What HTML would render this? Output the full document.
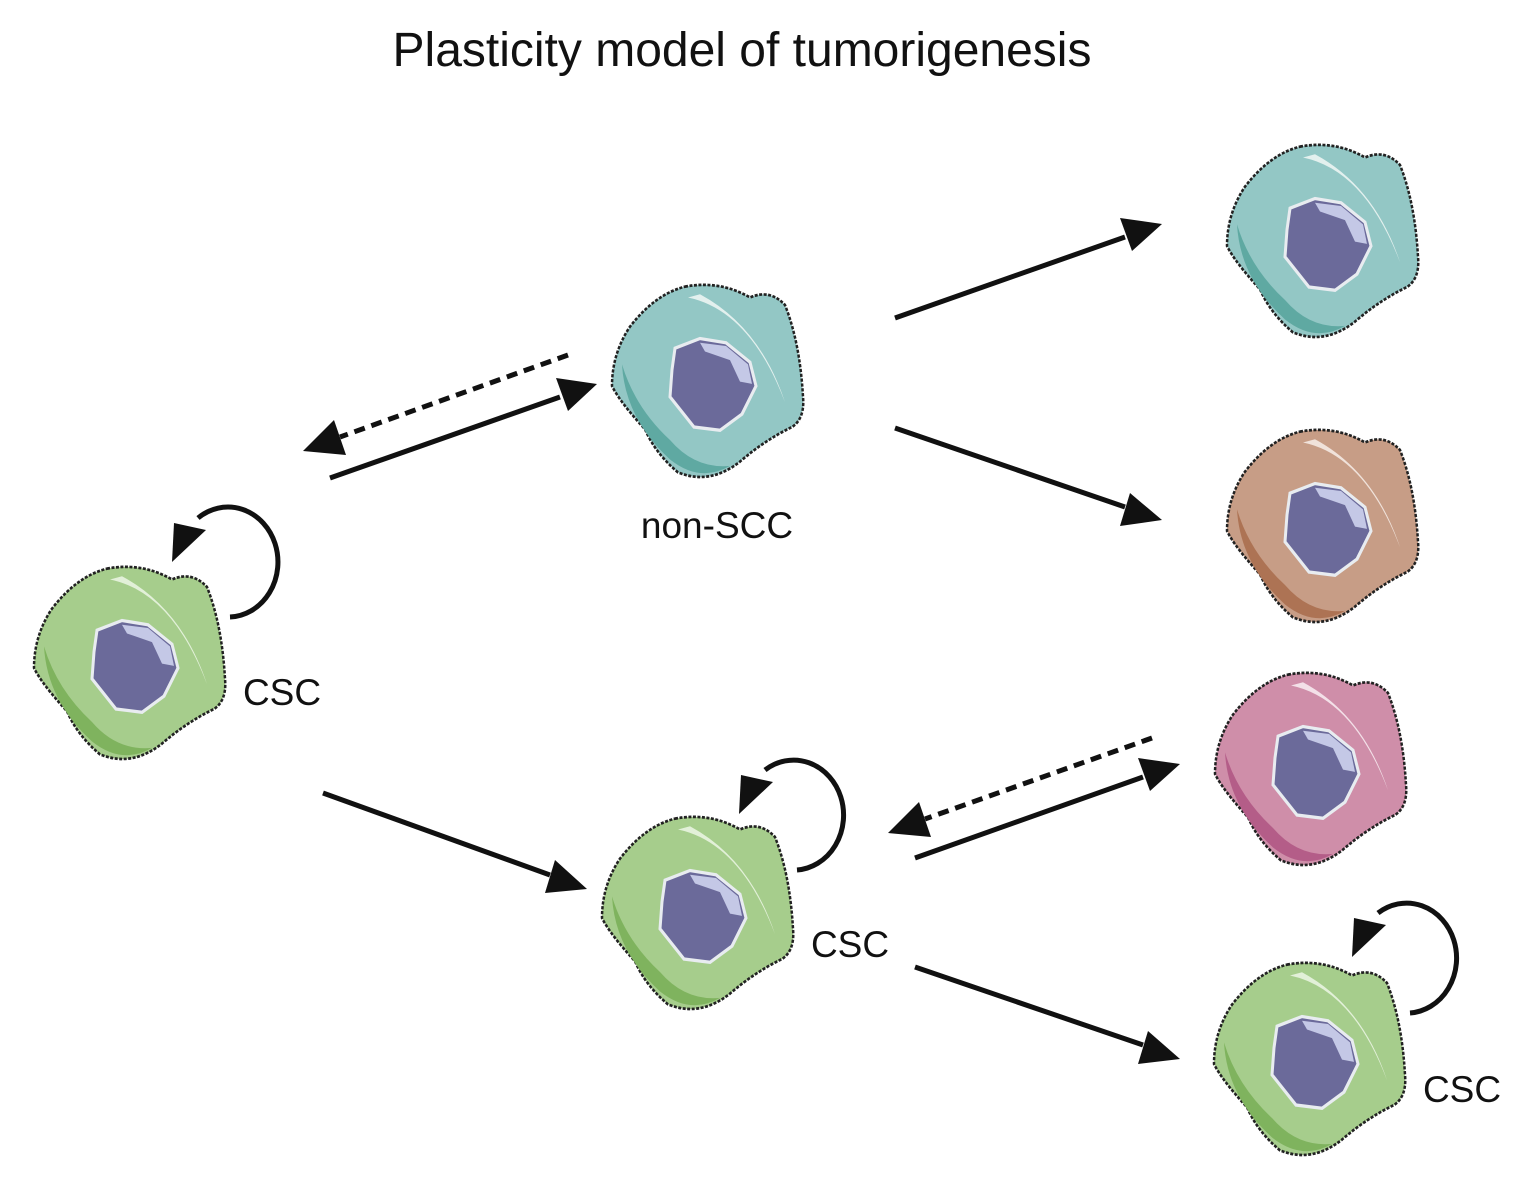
<!DOCTYPE html>
<html><head><meta charset="utf-8"><style>
html,body{margin:0;padding:0;background:#fff;}
svg{display:block;}
text{font-family:"Liberation Sans","DejaVu Sans",sans-serif;fill:#111;}
</style></head><body>
<svg width="1530" height="1188" viewBox="0 0 1530 1188" xmlns="http://www.w3.org/2000/svg">
<defs>
<g id="nuc">
<path d="M75,65 L100,56 L126,60 L150,78 L156,100 L142,126 L120,141 L94,138 L70,110 L72,85 Z" fill="#6b6a9a" stroke="#e8ecf0" stroke-width="3"/>
<path d="M100,60 L126,63 L148,80 L152,98 L140,96 L130,76 L105,68 Z" fill="#c4c8e6"/>
</g>
<path id="shp" d="M85,8 Q120,2 150,18 Q170,10 185,25 Q200,60 203,110 Q205,130 192,138 Q165,150 140,170 Q110,192 78,180 Q55,162 45,140 Q20,115 12,100 Q12,70 30,45 Q55,15 85,8 Z"/>
<path id="shd" d="M22,80 Q25,130 70,168 Q100,190 130,174 Q95,177 70,150 Q35,120 22,80 Z"/>
<path id="hl" d="M88,18 Q150,30 185,115 Q160,45 100,15 Z"/>
</defs>
<text x="742" y="66" font-size="48" text-anchor="middle">Plasticity model of tumorigenesis</text>

<g transform="translate(600,278) scale(1,1.08)">
<use href="#shp" fill="#93c7c5" stroke="#222" stroke-width="2.5" stroke-dasharray="3 1.5"/>
<use href="#shd" fill="#5fa9a2"/><use href="#hl" fill="#e3f0ee"/><use href="#nuc"/>
</g>
<g transform="translate(1215,138) scale(1,1.08)">
<use href="#shp" fill="#93c7c5" stroke="#222" stroke-width="2.5" stroke-dasharray="3 1.5"/>
<use href="#shd" fill="#5fa9a2"/><use href="#hl" fill="#e3f0ee"/><use href="#nuc"/>
</g>
<g transform="translate(1215,423) scale(1,1.08)">
<use href="#shp" fill="#c79d86" stroke="#222" stroke-width="2.5" stroke-dasharray="3 1.5"/>
<use href="#shd" fill="#ad7354"/><use href="#hl" fill="#f0e2da"/><use href="#nuc"/>
</g>
<g transform="translate(1203,666) scale(1,1.08)">
<use href="#shp" fill="#cf8ea9" stroke="#222" stroke-width="2.5" stroke-dasharray="3 1.5"/>
<use href="#shd" fill="#b45d88"/><use href="#hl" fill="#f3e0e8"/><use href="#nuc"/>
</g>
<g transform="translate(22,560) scale(1,1.08)">
<use href="#shp" fill="#a6cd8c" stroke="#222" stroke-width="2.5" stroke-dasharray="3 1.5"/>
<use href="#shd" fill="#7fb35e"/><use href="#hl" fill="#e2f0d8"/><use href="#nuc"/>
</g>
<g transform="translate(590,810) scale(1,1.08)">
<use href="#shp" fill="#a6cd8c" stroke="#222" stroke-width="2.5" stroke-dasharray="3 1.5"/>
<use href="#shd" fill="#7fb35e"/><use href="#hl" fill="#e2f0d8"/><use href="#nuc"/>
</g>
<g transform="translate(1202,956) scale(1,1.08)">
<use href="#shp" fill="#a6cd8c" stroke="#222" stroke-width="2.5" stroke-dasharray="3 1.5"/>
<use href="#shd" fill="#7fb35e"/><use href="#hl" fill="#e2f0d8"/><use href="#nuc"/>
</g>

<g stroke="#111" stroke-width="5" fill="none">
<line x1="330" y1="478" x2="560" y2="397"/>
<line x1="568" y1="355" x2="340" y2="437" stroke-dasharray="11 7"/>
<line x1="895" y1="318" x2="1125" y2="237"/>
<line x1="895" y1="428" x2="1125" y2="507"/>
<line x1="323" y1="793" x2="550" y2="875"/>
<line x1="915" y1="858" x2="1143" y2="777"/>
<line x1="1152" y1="738" x2="925" y2="819" stroke-dasharray="11 7"/>
<line x1="915" y1="967" x2="1143" y2="1045"/>
</g>
<g fill="#111">
<polygon points="597,384 556,378 568,411"/>
<polygon points="303,451 346,455 334,420"/>
<polygon points="1162,224 1120,218 1132,251"/>
<polygon points="1162,520 1130,493 1120,526"/>
<polygon points="587,889 555,860 545,893"/>
<polygon points="1180,764 1138,758 1150,791"/>
<polygon points="888,833 931,837 919,802"/>
<polygon points="1180,1059 1148,1031 1138,1064"/>
</g>

<g stroke="#111" stroke-width="5" fill="none">
<path d="M230,617 A50,55 0 1 0 198,518"/>
<path d="M797,870 A50,55 0 1 0 765,770"/>
<path d="M1410,1013 A50,55 0 1 0 1378,913"/>
</g>
<g fill="#111">
<polygon points="172,562 174,523 206,530"/>
<polygon points="739,814 741,775 773,782"/>
<polygon points="1352,957 1354,918 1386,925"/>
</g>

<text x="717" y="538" font-size="37" text-anchor="middle">non-SCC</text>
<text x="282" y="705" font-size="37" text-anchor="middle">CSC</text>
<text x="850" y="957" font-size="37" text-anchor="middle">CSC</text>
<text x="1462" y="1102" font-size="37" text-anchor="middle">CSC</text>
</svg>
</body></html>
